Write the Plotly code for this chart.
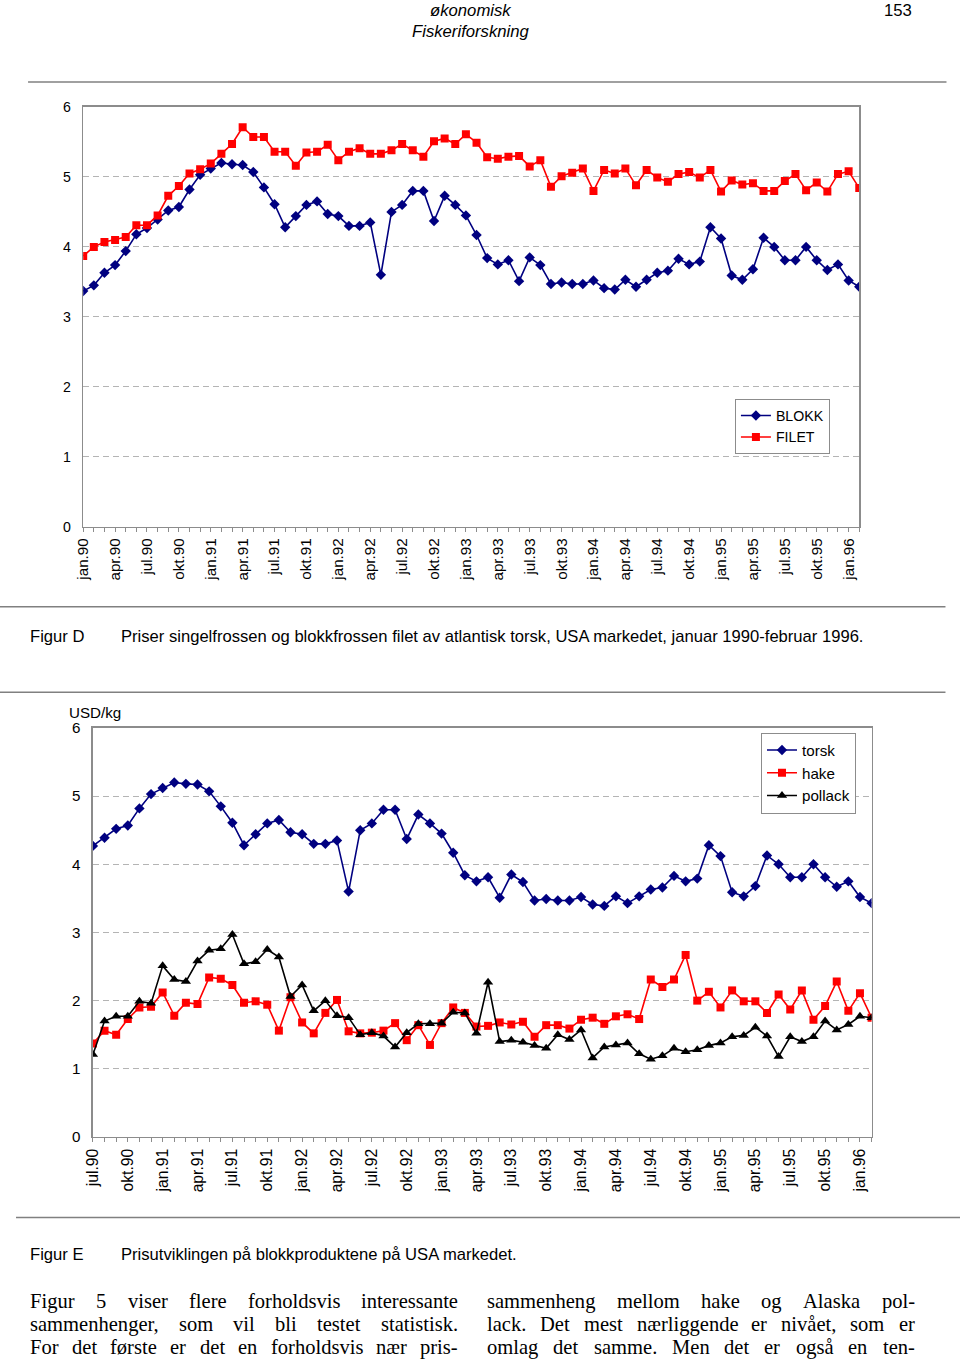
import plotly.graph_objects as go

W, H = 960, 1364
# the photographed page appears slightly shrunk (x0.988) with a ~9px border;
# positions below are given in reference-picture pixels and mapped through this
S, C = 0.988, 9.0

# ---------------- data ----------------
# Figur D: Jan 1990 - Feb 1996 (monthly)
blokk = [3.37, 3.45, 3.63, 3.74, 3.94, 4.18, 4.27, 4.39, 4.52, 4.57,
         4.82, 5.03, 5.12, 5.20, 5.18, 5.17, 5.07, 4.85, 4.61, 4.28,
         4.44, 4.60, 4.65, 4.47, 4.44, 4.30, 4.30, 4.35, 3.60, 4.50,
         4.60, 4.80, 4.80, 4.37, 4.73, 4.60, 4.45, 4.17, 3.84, 3.75,
         3.81, 3.51, 3.85, 3.74, 3.47, 3.49, 3.47, 3.47, 3.52, 3.41,
         3.39, 3.53, 3.43, 3.53, 3.63, 3.66, 3.83, 3.75, 3.79, 4.28,
         4.12, 3.59, 3.53, 3.68, 4.13, 4.00, 3.81, 3.81, 4.00, 3.81,
         3.67, 3.75, 3.52, 3.43]
filet = [3.87, 4.00, 4.07, 4.10, 4.14, 4.31, 4.31, 4.45, 4.73, 4.87,
         5.05, 5.11, 5.19, 5.33, 5.47, 5.71, 5.57, 5.57, 5.36, 5.36,
         5.16, 5.35, 5.36, 5.46, 5.24, 5.36, 5.41, 5.33, 5.33, 5.38,
         5.47, 5.38, 5.29, 5.51, 5.55, 5.47, 5.61, 5.49, 5.28, 5.26,
         5.29, 5.30, 5.15, 5.24, 4.86, 5.01, 5.06, 5.12, 4.80, 5.10,
         5.05, 5.12, 4.88, 5.10, 4.99, 4.93, 5.04, 5.07, 4.99, 5.10,
         4.79, 4.95, 4.89, 4.91, 4.80, 4.80, 4.94, 5.04, 4.81, 4.92,
         4.79, 5.04, 5.08, 4.84]
ticks_1 = ["jan.90", "apr.90", "jul.90", "okt.90", "jan.91", "apr.91", "jul.91", "okt.91",
           "jan.92", "apr.92", "jul.92", "okt.92", "jan.93", "apr.93", "jul.93", "okt.93",
           "jan.94", "apr.94", "jul.94", "okt.94", "jan.95", "apr.95", "jul.95", "okt.95",
           "jan.96"]

# Figur E: Jul 1990 - Feb 1996 (monthly)
torsk = [4.27, 4.39, 4.52, 4.57, 4.82, 5.03, 5.12, 5.20, 5.18, 5.17,
         5.07, 4.85, 4.61, 4.28, 4.44, 4.60, 4.65, 4.47, 4.44, 4.30,
         4.30, 4.35, 3.60, 4.50, 4.60, 4.80, 4.80, 4.37, 4.73, 4.60,
         4.45, 4.17, 3.84, 3.75, 3.81, 3.51, 3.85, 3.74, 3.47, 3.49,
         3.47, 3.47, 3.52, 3.41, 3.39, 3.53, 3.43, 3.53, 3.63, 3.66,
         3.83, 3.75, 3.79, 4.28, 4.12, 3.59, 3.53, 3.68, 4.13, 4.00,
         3.81, 3.81, 4.00, 3.81, 3.67, 3.75, 3.52, 3.43]
hake = [1.37, 1.56, 1.50, 1.73, 1.90, 1.91, 2.12, 1.78, 1.97, 1.95,
        2.34, 2.32, 2.23, 1.97, 1.99, 1.94, 1.56, 2.05, 1.68, 1.52,
        1.82, 2.01, 1.55, 1.52, 1.53, 1.56, 1.67, 1.42, 1.64, 1.35,
        1.67, 1.90, 1.82, 1.62, 1.63, 1.68, 1.65, 1.69, 1.47, 1.64,
        1.64, 1.59, 1.72, 1.75, 1.66, 1.77, 1.80, 1.73, 2.31, 2.20,
        2.31, 2.67, 2.00, 2.13, 1.90, 2.15, 1.99, 1.99, 1.82, 2.09,
        1.87, 2.15, 1.72, 1.92, 2.28, 1.85, 2.11, 1.75]
pollack = [1.21, 1.70, 1.77, 1.77, 1.99, 1.96, 2.51, 2.31, 2.28, 2.58,
           2.74, 2.76, 2.97, 2.54, 2.57, 2.75, 2.64, 2.06, 2.23, 1.85,
           2.00, 1.78, 1.75, 1.50, 1.53, 1.48, 1.32, 1.53, 1.66, 1.66,
           1.67, 1.83, 1.82, 1.52, 2.27, 1.40, 1.42, 1.39, 1.34, 1.30,
           1.50, 1.43, 1.57, 1.16, 1.32, 1.35, 1.38, 1.22, 1.14, 1.19,
           1.30, 1.25, 1.28, 1.34, 1.38, 1.47, 1.49, 1.61, 1.48, 1.18,
           1.47, 1.40, 1.47, 1.70, 1.57, 1.65, 1.77, 1.75]
ticks_2 = ["jul.90", "okt.90", "jan.91", "apr.91", "jul.91", "okt.91",
           "jan.92", "apr.92", "jul.92", "okt.92", "jan.93", "apr.93", "jul.93", "okt.93",
           "jan.94", "apr.94", "jul.94", "okt.94", "jan.95", "apr.95", "jul.95", "okt.95",
           "jan.96"]

x1 = list(range(len(blokk)))
x2 = list(range(len(torsk)))

SANS = "Liberation Sans, Arial, sans-serif"
SERIF = "Liberation Serif, Times New Roman, serif"
NAVY = "#000080"
RED = "#FF0000"
AXC = "#8c8c8c"
GRID = "#b4b4b4"


def px(x):
    return ((x - C) / S) / W


def py(y):
    return 1 - ((y - C) / S) / H


def fs(v):
    return round(v / S, 2)


fig = go.Figure()

fig.add_trace(go.Scatter(x=x1, y=blokk, name="BLOKK", mode="lines+markers",
                         line=dict(color=NAVY, width=1.6),
                         marker=dict(symbol="diamond", size=8, color=NAVY),
                         xaxis="x", yaxis="y", legend="legend"))
fig.add_trace(go.Scatter(x=x1, y=filet, name="FILET", mode="lines+markers",
                         line=dict(color=RED, width=1.6),
                         marker=dict(symbol="square", size=8, color=RED),
                         xaxis="x", yaxis="y", legend="legend"))

fig.add_trace(go.Scatter(x=x2, y=torsk, name="torsk", mode="lines+markers",
                         line=dict(color=NAVY, width=1.6),
                         marker=dict(symbol="diamond", size=8, color=NAVY),
                         xaxis="x2", yaxis="y2", legend="legend2"))
fig.add_trace(go.Scatter(x=x2, y=hake, name="hake", mode="lines+markers",
                         line=dict(color=RED, width=1.6),
                         marker=dict(symbol="square", size=8, color=RED),
                         xaxis="x2", yaxis="y2", legend="legend2"))
fig.add_trace(go.Scatter(x=x2, y=pollack, name="pollack", mode="lines+markers",
                         line=dict(color="black", width=1.6),
                         marker=dict(symbol="triangle-up", size=9, color="black"),
                         xaxis="x2", yaxis="y2", legend="legend2"))


def xaxis_cfg(n, labels, domain, anchor, fsize):
    return dict(domain=domain, anchor=anchor, range=[0, n - 1],
                tickmode="array", tickvals=list(range(0, 3 * len(labels), 3)),
                ticktext=labels, tickangle=-90,
                tickfont=dict(family=SANS, size=fsize, color="black"),
                ticks="outside", ticklen=4, tickcolor=AXC, tickwidth=1,
                minor=dict(ticks="outside", dtick=1, tick0=0, ticklen=4, tickcolor=AXC, tickwidth=1),
                showgrid=False, zeroline=False, showline=True, linecolor=AXC, linewidth=1.5,
                mirror=True, fixedrange=True)


def yaxis_cfg(domain, anchor, fsize):
    return dict(domain=domain, anchor=anchor, range=[0, 6], dtick=1, tick0=0,
                tickfont=dict(family=SANS, size=fsize, color="black"),
                ticks="", ticklabelstandoff=8,
                showgrid=True, gridcolor=GRID, gridwidth=1, griddash="6px,4px",
                zeroline=False, showline=True, linecolor=AXC, linewidth=1.5,
                mirror=True, fixedrange=True)


fig.update_layout(
    width=W, height=H, margin=dict(l=0, r=0, t=0, b=0),
    paper_bgcolor="white", plot_bgcolor="white",
    xaxis=xaxis_cfg(len(blokk), ticks_1, [px(83), px(857)], "y", fs(15)),
    yaxis=yaxis_cfg([py(527), py(107)], "x", fs(14)),
    xaxis2=xaxis_cfg(len(torsk), ticks_2, [px(92.7), px(869.3)], "y2", fs(15.5)),
    yaxis2=yaxis_cfg([py(1137.5), py(728.3)], "x2", fs(15)),
    legend=dict(x=px(733), y=py(399), xanchor="left", yanchor="top",
                bgcolor="white", bordercolor=AXC, borderwidth=1,
                font=dict(family=SANS, size=fs(14), color="black"), itemwidth=30,
                tracegroupgap=0),
    legend2=dict(x=px(759), y=py(733), xanchor="left", yanchor="top",
                 bgcolor="white", bordercolor=AXC, borderwidth=1,
                 font=dict(family=SANS, size=fs(15), color="black"), itemwidth=30,
                 tracegroupgap=0),
    showlegend=True,
)

annotations = []


def text(x, y, s, size, family, xanchor="left", italic=False, color="black"):
    annotations.append(dict(x=px(x), y=py(y), xref="paper", yref="paper",
                            text=s, showarrow=False, xanchor=xanchor, yanchor="middle",
                            borderpad=0,
                            font=dict(family=family, size=fs(size), color=color,
                                      style="italic" if italic else "normal")))


text(470, 11, "økonomisk", 16.5, SANS, "center", italic=True)
text(470, 32, "Fiskeriforskning", 16.5, SANS, "center", italic=True)
text(911, 11, "153", 16.5, SANS, "right")

text(29, 637, "Figur D", 16.4, SANS)
text(120, 637, "Priser singelfrossen og blokkfrossen filet av atlantisk torsk, USA markedet, januar 1990-februar 1996.", 16.4, SANS)

text(68, 713, "USD/kg", 15, SANS)

text(29, 1255, "Figur E", 16.4, SANS)
text(120, 1255, "Prisutviklingen på blokkproduktene på USA markedet.", 16.4, SANS)

# justified body text (Times metrics, per 1000 em)
TIMES_W = {
    'a': 444, 'b': 500, 'c': 444, 'd': 500, 'e': 444, 'f': 333, 'g': 500, 'h': 500,
    'i': 278, 'j': 278, 'k': 500, 'l': 278, 'm': 778, 'n': 500, 'o': 500, 'p': 500,
    'q': 500, 'r': 333, 's': 389, 't': 278, 'u': 500, 'v': 500, 'w': 722, 'x': 500,
    'y': 500, 'z': 444, 'F': 556, 'A': 722, 'D': 722, 'M': 889, '5': 500, ',': 250,
    '.': 250, '-': 333, 'ø': 500, 'å': 444, 'æ': 667,
}
BODY_SIZE = 20.3


def word_width(w):
    return sum(TIMES_W.get(c, 500) for c in w) * BODY_SIZE / 1000.0


def justified(line, x0, x1, y):
    words = line.split(" ")
    widths = [word_width(w) for w in words]
    gap = (x1 - x0 - sum(widths)) / (len(words) - 1)
    x = x0
    for w, ww in zip(words, widths):
        text(x, y, w, BODY_SIZE, SERIF)
        x += ww + gap


body_left = ["Figur 5 viser flere forholdsvis interessante",
             "sammenhenger, som vil bli testet statistisk.",
             "For det første er det en forholdsvis nær pris-"]
body_right = ["sammenheng mellom hake og Alaska pol-",
              "lack. Det mest nærliggende er nivået, som er",
              "omlag det samme. Men det er også en ten-"]
for i, s in enumerate(body_left):
    justified(s, 29, 455, 1302 + 23 * i)
for i, s in enumerate(body_right):
    justified(s, 485, 911, 1302 + 23 * i)

fig.update_layout(annotations=annotations)

shapes = []
for (xa, xb, y) in [(28, 944, 82), (0, 943, 607), (0, 943, 692.5), (16, 960, 1218)]:
    shapes.append(dict(type="line", xref="paper", yref="paper",
                       x0=px(xa), x1=px(xb), y0=py(y), y1=py(y),
                       line=dict(color="#808080", width=1.5)))
fig.update_layout(shapes=shapes)

fig.write_html("out.html", config={"displayModeBar": False, "staticPlot": True},
               post_script="document.body.style.margin='0';document.body.style.overflow='hidden';")
